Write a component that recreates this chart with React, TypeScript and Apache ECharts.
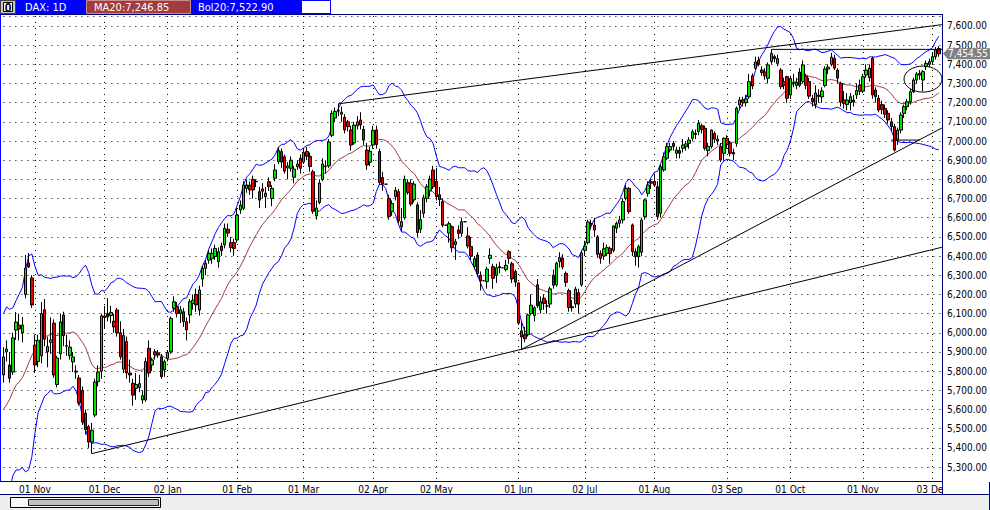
import React, { useEffect, useRef } from "react";
import * as echarts from "echarts";

// ---------- calendar ----------
const startDate = "2011-10-18";
const endDate = "2012-12-05";
const closedDays = ["2011-12-26", "2011-12-30", "2012-04-09", "2012-05-01"];
const extraDays = ["2012-05-05", "2012-05-12", "2012-05-19", "2012-05-26"];
const monthNames = ["Jan", "Feb", "Mar", "Apr", "May", "Jun", "Jul", "Aug", "Sep", "Oct", "Nov", "Dec"];

// ---------- header texts ----------
const symbolLabel = "DAX: 1D";
const maLabel = "MA20:7,246.85";
const bolLabel = "Bol20:7,522.90";
const lastPrice = 7454.55;

// closes before the first visible bar (for MA20 / Bollinger warm-up)
const warmupCloses = [5474, 5164, 5196, 5386, 5681, 5577, 5639, 5502, 5377, 5217, 5377, 5653, 5676, 5803, 5807, 5914, 5875, 5967, 5880];

// candles: [open, close, low, high]
const oct2011 = [
  [5780, 5874, 5740, 5925], [5900, 5915, 5850, 5960], [5832, 5763, 5740, 5900], [5795, 5973, 5780, 6000],
  [6014, 6056, 5963, 6108], [6040, 6020, 5960, 6100], [6000, 6040, 5950, 6082], [6200, 6338, 6180, 6406],
  [6364, 6343, 6338, 6416], [6286, 6145, 6130, 6300],
];
const nov2011 = [
  [5936, 5832, 5790, 5990], [5850, 5961, 5820, 5990], [5880, 6100, 5840, 6160], [6120, 5966, 5930, 6176],
  [5900, 5928, 5820, 5980], [5950, 5962, 5890, 6080], [6050, 5780, 5765, 6070], [5730, 5868, 5715, 5880],
  [5890, 6057, 5860, 6100], [6093, 5985, 5930, 6110], [5930, 5933, 5880, 5990], [5880, 5925, 5860, 5960],
  [5848, 5874, 5795, 5900], [5800, 5795, 5760, 5830], [5764, 5634, 5620, 5780], [5700, 5535, 5520, 5720],
  [5580, 5495, 5470, 5600], [5510, 5430, 5400, 5520], [5430, 5492, 5370, 5530], [5571, 5743, 5560, 5760],
  [5745, 5795, 5720, 5830], [5800, 6088, 5760, 6100],
];
const dec2011 = [
  [6088, 6080, 6020, 6140], [6100, 6082, 6060, 6180], [6090, 6106, 6050, 6140], [6060, 6030, 6000, 6100],
  [6119, 6000, 5980, 6130], [6000, 5875, 5860, 6060], [5810, 5985, 5790, 6020], [5954, 5790, 5760, 5980],
  [5790, 5780, 5740, 5860], [5736, 5675, 5620, 5760], [5710, 5730, 5650, 5790], [5715, 5735, 5690, 5780],
  [5650, 5672, 5630, 5700], [5650, 5850, 5640, 5870], [5919, 5790, 5770, 5960], [5832, 5858, 5800, 5870],
  [5901, 5885, 5860, 5915], [5895, 5885, 5870, 5910], [5875, 5771, 5760, 5890], [5806, 5849, 5770, 5860],
];
const jan2012 = [
  [5867, 5898, 5850, 5910], [5901, 6075, 5890, 6085], [6127, 6162, 6110, 6190], [6136, 6100, 6080, 6160],
  [6100, 6120, 6050, 6140], [6110, 6058, 6030, 6130], [6058, 6015, 5960, 6080], [6093, 6162, 6050, 6175],
  [6153, 6170, 6120, 6200], [6200, 6145, 6110, 6230], [6119, 6223, 6090, 6245], [6280, 6336, 6240, 6350],
  [6336, 6362, 6300, 6380], [6379, 6414, 6360, 6430], [6388, 6414, 6360, 6440], [6397, 6440, 6380, 6460],
  [6371, 6423, 6340, 6445], [6452, 6428, 6400, 6470], [6458, 6545, 6440, 6570], [6540, 6520, 6500, 6570],
  [6470, 6445, 6420, 6500], [6470, 6440, 6400, 6490],
];
const feb2012 = [
  [6484, 6614, 6470, 6650], [6640, 6666, 6620, 6690], [6649, 6771, 6640, 6790], [6753, 6771, 6730, 6800],
  [6770, 6745, 6720, 6790], [6800, 6745, 6700, 6820], [6790, 6788, 6760, 6800], [6736, 6692, 6650, 6760],
  [6750, 6738, 6700, 6780], [6710, 6728, 6650, 6760], [6788, 6762, 6740, 6810], [6700, 6753, 6660, 6770],
  [6806, 6849, 6790, 6880], [6893, 6950, 6880, 6970], [6945, 6890, 6860, 6960], [6918, 6843, 6830, 6930],
  [6860, 6870, 6800, 6890], [6858, 6900, 6840, 6920], [6811, 6854, 6780, 6870], [6866, 6880, 6850, 6900],
  [6910, 6858, 6830, 6930],
];
const mar2012 = [
  [6890, 6941, 6880, 6960], [6945, 6921, 6900, 6970], [6920, 6867, 6840, 6940], [6840, 6634, 6620, 6850],
  [6610, 6650, 6590, 6690], [6680, 6781, 6670, 6800], [6800, 6880, 6790, 6910], [6870, 6866, 6830, 6900],
  [6870, 6995, 6860, 7010], [7030, 7144, 7020, 7160], [7120, 7154, 7100, 7175], [7160, 7157, 7130, 7194],
  [7140, 7150, 7100, 7180], [7124, 7058, 7040, 7140], [7100, 7075, 7050, 7110], [7058, 6979, 6950, 7080],
  [6990, 7083, 6980, 7100], [7080, 7100, 7060, 7130], [7110, 7084, 7060, 7150], [7061, 7005, 6980, 7080],
  [6953, 6875, 6850, 6990], [6890, 6947, 6870, 6970],
];
const apr2012 = [
  [6979, 7056, 6960, 7080], [7058, 6982, 6960, 7080], [6945, 6784, 6770, 6960], [6810, 6775, 6740, 6840],
  [6775, 6775, 6775, 6775], [6701, 6606, 6590, 6720], [6632, 6674, 6610, 6690], [6710, 6743, 6690, 6760],
  [6736, 6583, 6570, 6750], [6553, 6580, 6530, 6650], [6600, 6801, 6590, 6820], [6783, 6732, 6720, 6800],
  [6779, 6671, 6660, 6800], [6693, 6775, 6680, 6790], [6667, 6523, 6500, 6680], [6540, 6590, 6520, 6640],
  [6623, 6704, 6600, 6720], [6701, 6762, 6680, 6775], [6740, 6801, 6710, 6820], [6849, 6761, 6750, 6870],
];
const may2012 = [
  [6790, 6710, 6690, 6860], [6720, 6694, 6660, 6760], [6684, 6561, 6550, 6700], [6561, 6561, 6561, 6561],
  [6520, 6569, 6470, 6580], [6553, 6444, 6420, 6560], [6460, 6475, 6380, 6490], [6536, 6518, 6490, 6560],
  [6519, 6579, 6500, 6600], [6579, 6579, 6579, 6579], [6505, 6452, 6440, 6550], [6450, 6401, 6380, 6500],
  [6345, 6386, 6330, 6400], [6405, 6308, 6290, 6420], [6300, 6271, 6220, 6320], [6271, 6271, 6271, 6271],
  [6267, 6332, 6230, 6345], [6388, 6404, 6360, 6440], [6345, 6284, 6230, 6360], [6300, 6339, 6260, 6360],
  [6345, 6339, 6310, 6370], [6339, 6339, 6339, 6339], [6330, 6352, 6320, 6380], [6423, 6388, 6360, 6430],
  [6360, 6281, 6260, 6370], [6319, 6264, 6240, 6330],
];
const jun2012 = [
  [6260, 6050, 6040, 6265], [6010, 5978, 5914, 6060], [5990, 5969, 5950, 6030], [5990, 6093, 5980, 6100],
  [6100, 6144, 6090, 6200], [6090, 6130, 6060, 6140], [6250, 6141, 6130, 6280], [6120, 6162, 6100, 6190],
  [6180, 6153, 6120, 6200], [6140, 6139, 6100, 6170], [6150, 6229, 6130, 6240], [6300, 6248, 6230, 6330],
  [6250, 6363, 6240, 6370], [6370, 6392, 6340, 6420], [6390, 6343, 6330, 6410], [6310, 6263, 6240, 6320],
  [6220, 6132, 6110, 6230], [6130, 6136, 6110, 6170], [6150, 6228, 6130, 6240], [6210, 6149, 6100, 6230],
  [6250, 6416, 6240, 6430],
];
const jul2012 = [
  [6430, 6452, 6400, 6480], [6470, 6578, 6460, 6590], [6570, 6566, 6540, 6590], [6562, 6536, 6500, 6600],
  [6500, 6410, 6390, 6510], [6414, 6388, 6360, 6430], [6400, 6438, 6380, 6470], [6414, 6444, 6400, 6460],
  [6440, 6413, 6360, 6450], [6430, 6557, 6420, 6560], [6545, 6571, 6520, 6580], [6571, 6588, 6550, 6610],
  [6588, 6684, 6570, 6700], [6701, 6753, 6690, 6770], [6753, 6632, 6620, 6760], [6562, 6423, 6400, 6570],
  [6423, 6397, 6350, 6440], [6397, 6449, 6340, 6460], [6420, 6588, 6400, 6600], [6606, 6693, 6590, 6700],
  [6727, 6771, 6710, 6790], [6788, 6780, 6750, 6800],
];
const aug2012 = [
  [6790, 6770, 6760, 6830], [6762, 6606, 6590, 6790], [6623, 6866, 6600, 6880], [6849, 6918, 6840, 6940],
  [6910, 6971, 6900, 6990], [6953, 6971, 6940, 6990], [6988, 6971, 6950, 7000], [6936, 6953, 6910, 6970],
  [6950, 6936, 6910, 6970], [6962, 6979, 6940, 7010], [6970, 6985, 6950, 7000], [6988, 7005, 6960, 7020],
  [7014, 7049, 7000, 7060], [7040, 7034, 7010, 7060], [7049, 7092, 7030, 7110], [7080, 7060, 7040, 7090],
  [7066, 6962, 6950, 7080], [6950, 6972, 6920, 6990], [6971, 7057, 6960, 7060], [7040, 7010, 6990, 7050],
  [7000, 7010, 6980, 7030], [6971, 6901, 6890, 6990], [6936, 7014, 6900, 7020],
];
const sep2012 = [
  [7014, 6981, 6960, 7030], [6988, 6936, 6920, 7000], [6940, 6932, 6900, 6960], [6988, 7171, 6970, 7180],
  [7188, 7214, 7170, 7230], [7215, 7200, 7180, 7230], [7200, 7220, 7180, 7240], [7230, 7310, 7220, 7350],
  [7340, 7287, 7270, 7353], [7380, 7412, 7370, 7440], [7420, 7403, 7390, 7440], [7370, 7357, 7340, 7390],
  [7360, 7340, 7320, 7380], [7327, 7397, 7300, 7410], [7414, 7457, 7400, 7478], [7440, 7430, 7410, 7450],
  [7405, 7430, 7390, 7450], [7370, 7283, 7270, 7380], [7310, 7290, 7270, 7330], [7336, 7223, 7200, 7340],
];
const oct2012 = [
  [7240, 7326, 7220, 7340], [7300, 7306, 7280, 7350], [7290, 7306, 7270, 7330], [7360, 7291, 7280, 7380],
  [7310, 7397, 7300, 7420], [7340, 7291, 7270, 7350], [7310, 7234, 7220, 7330], [7223, 7206, 7180, 7240],
  [7190, 7250, 7170, 7290], [7240, 7232, 7200, 7270], [7230, 7261, 7200, 7280], [7290, 7376, 7280, 7390],
  [7375, 7385, 7350, 7400], [7400, 7437, 7390, 7460], [7431, 7380, 7370, 7450], [7370, 7328, 7300, 7380],
  [7300, 7203, 7179, 7310], [7214, 7196, 7170, 7260], [7190, 7214, 7160, 7250], [7200, 7231, 7160, 7250],
  [7214, 7203, 7180, 7240], [7240, 7263, 7220, 7300], [7292, 7260, 7240, 7320],
];
const nov2012 = [
  [7260, 7335, 7250, 7350], [7344, 7370, 7330, 7400], [7330, 7380, 7310, 7400], [7431, 7240, 7220, 7440],
  [7266, 7231, 7200, 7280], [7223, 7162, 7150, 7240], [7190, 7165, 7140, 7210], [7170, 7140, 7120, 7190],
  [7144, 7110, 7090, 7160], [7100, 7075, 7050, 7120], [7075, 6953, 6945, 7090], [7005, 7057, 6980, 7070],
  [7057, 7136, 7040, 7150], [7144, 7179, 7120, 7190], [7179, 7205, 7160, 7220], [7205, 7257, 7190, 7270],
  [7257, 7318, 7250, 7330], [7318, 7350, 7300, 7360], [7353, 7344, 7320, 7370], [7318, 7362, 7260, 7370],
  [7388, 7405, 7370, 7420], [7400, 7414, 7385, 7430],
];
const dec2012 = [
  [7414, 7440, 7400, 7460], [7440, 7475, 7425, 7490], [7483, 7454.55, 7440, 7495],
];

// drawn trend lines: [[barIndex, price], [barIndex, price]]
const trendLines = [
  [[106, 7194], [297, 7607]],
  [[243, 7478], [297, 7478]],
  [[28, 5370], [297, 6446]],
  [[164, 5914], [297, 7068]],
  [[281, 7005], [290, 7005]],
];
// annotation ellipse centre [barIndex, price]
const ellipseCentre = [291, 7323];

const FONT = '"DejaVu Sans Condensed", "DejaVu Sans", sans-serif';

function buildDates(): string[] {
  const closed = new Set(closedDays);
  const extra = new Set(extraDays);
  const out: string[] = [];
  const [sy, sm, sd] = startDate.split("-").map(Number);
  const [ey, em, ed] = endDate.split("-").map(Number);
  let t = Date.UTC(sy, sm - 1, sd);
  const end = Date.UTC(ey, em - 1, ed);
  while (t <= end) {
    const d = new Date(t);
    const iso = d.toISOString().slice(0, 10);
    const wd = d.getUTCDay();
    if ((wd >= 1 && wd <= 5 && !closed.has(iso)) || extra.has(iso)) out.push(iso);
    t += 86400000;
  }
  return out;
}

export default function App() {
  const ref = useRef<HTMLDivElement>(null);

  useEffect(() => {
    document.body.style.margin = "0";
    const el = ref.current!;
    const chart = echarts.init(el, undefined, { renderer: "svg", width: 990, height: 510 });

    const candles = [
      ...oct2011, ...nov2011, ...dec2011, ...jan2012, ...feb2012, ...mar2012, ...apr2012,
      ...may2012, ...jun2012, ...jul2012, ...aug2012, ...sep2012, ...oct2012, ...nov2012, ...dec2012,
    ];
    const dates = buildDates();
    const cats = [...dates, ""];

    const allCloses = [...warmupCloses, ...candles.map((c) => c[1])];
    const ma: (number | null)[] = [];
    const up: (number | null)[] = [];
    const lo: (number | null)[] = [];
    for (let i = 0; i < candles.length; i++) {
      const k = i + warmupCloses.length;
      const win = allCloses.slice(k - 19, k + 1);
      const m = win.reduce((a, b) => a + b, 0) / win.length;
      const sd = Math.sqrt(win.reduce((a, b) => a + (b - m) * (b - m), 0) / win.length);
      ma.push(m);
      up.push(m + 2 * sd);
      lo.push(m - 2 * sd);
    }

    const isMonthStart = (i: number) =>
      i > 0 && i < dates.length && dates[i].slice(0, 7) !== dates[i - 1].slice(0, 7);

    const lineSeries = (data: any[], color: string, z: number) => ({
      type: "line",
      data,
      showSymbol: false,
      symbol: "none",
      lineStyle: { color, width: 1 },
      itemStyle: { color },
      z,
      silent: true,
    });

    chart.setOption({
      animation: false,
      backgroundColor: "#ffffff",
      grid: { left: 3.4, right: 47.5, top: 16, bottom: 29, containLabel: false },
      xAxis: {
        type: "category",
        data: cats,
        boundaryGap: false,
        axisLine: { show: false },
        axisTick: { show: false },
        axisLabel: {
          interval: (i: number) => isMonthStart(i),
          formatter: (v: string) => (v ? `${v.slice(8, 10)} ${monthNames[Number(v.slice(5, 7)) - 1]}` : ""),
          color: "#000",
          fontFamily: FONT,
          fontSize: 10,
          margin: 3,
        },
        splitLine: {
          show: true,
          interval: (i: number) => isMonthStart(i),
          lineStyle: { color: "#000", width: 1, type: [1, 5] },
        },
      },
      yAxis: {
        type: "value",
        position: "right",
        min: 5227,
        max: 7652,
        splitNumber: 24,
        minInterval: 100,
        maxInterval: 100,
        axisLine: { show: false },
        axisTick: { show: false },
        axisLabel: {
          formatter: (v: number) =>
            v.toLocaleString("en-US", { minimumFractionDigits: 2, maximumFractionDigits: 2 }),
          showMinLabel: false,
          showMaxLabel: false,
          color: "#000",
          fontFamily: FONT,
          fontSize: 10,
          margin: 5,
        },
        splitLine: { show: true, lineStyle: { color: "#000", width: 1, type: [1, 5] } },
      },
      series: [
        lineSeries(ma, "#a03c3c", 3),
        lineSeries(up, "#0000ff", 3),
        lineSeries(lo, "#0000ff", 3),
        {
          type: "candlestick",
          data: candles,
          barWidth: 3,
          z: 5,
          silent: true,
          itemStyle: {
            color: "#00e600",
            color0: "#e60000",
            borderColor: "#000",
            borderColor0: "#000",
            borderColorDoji: "#000",
            borderWidth: 1,
          },
        },
        ...trendLines.map((seg) => lineSeries(seg, "#000", 8)),
      ],
    });

    const [ex, ey] = chart.convertToPixel({ gridIndex: 0 }, ellipseCentre) as number[];
    const [, py] = chart.convertToPixel({ gridIndex: 0 }, [0, lastPrice]) as number[];
    const navy = "#000080";
    const Z = 100;
    const txt = (x: number, y: number, text: string, size: number, fill: string, extra: any = {}) => ({
      type: "text",
      z: Z + 2,
      x,
      y,
      style: { text, fill, font: `${size}px ${FONT}`, textVerticalAlign: "middle", ...extra },
    });

    chart.setOption({
      graphic: [
        { type: "ellipse", z: Z, shape: { cx: ex, cy: ey, rx: 19, ry: 13 }, style: { fill: "none", stroke: "#000", lineWidth: 1 } },
        // header
        { type: "rect", z: Z, shape: { x: 0, y: 0, width: 331, height: 14 }, style: { fill: "#0000ff" } },
        { type: "rect", z: Z + 1, shape: { x: 0.5, y: 0.5, width: 15, height: 13 }, style: { fill: "#c8c8c8", stroke: "#404040", lineWidth: 1 } },
        { type: "rect", z: Z + 1, shape: { x: 3.5, y: 2.5, width: 9, height: 9 }, style: { fill: "#ffffff", stroke: "#000", lineWidth: 1 } },
        txt(8, 7.5, "0", 9, "#000", { textAlign: "center", fontWeight: "bold" }),
        txt(25, 7.5, symbolLabel, 11, "#ffffff"),
        { type: "rect", z: Z + 1, shape: { x: 86.5, y: 0.5, width: 104, height: 13 }, style: { fill: "#a03c3c", stroke: "#d08a8a", lineWidth: 1 } },
        txt(94, 7.5, maLabel, 11, "#ffffff"),
        txt(198, 7.5, bolLabel, 11, "#ffffff"),
        { type: "rect", z: Z + 1, shape: { x: 302, y: 1, width: 28, height: 12 }, style: { fill: "#ffffff" } },
        // frame
        { type: "line", z: Z, shape: { x1: 0, y1: 14.5, x2: 943, y2: 14.5 }, style: { stroke: navy, lineWidth: 1 } },
        { type: "line", z: Z, shape: { x1: 0.5, y1: 14, x2: 0.5, y2: 482 }, style: { stroke: "#0000ff", lineWidth: 1 } },
        { type: "line", z: Z, shape: { x1: 942.5, y1: 14, x2: 942.5, y2: 495 }, style: { stroke: navy, lineWidth: 1 } },
        { type: "line", z: Z, shape: { x1: 0, y1: 481.5, x2: 943, y2: 481.5 }, style: { stroke: navy, lineWidth: 1 } },
        { type: "rect", z: Z, shape: { x: 943, y: 482, width: 47, height: 13 }, style: { fill: "#ffffff" } },
        // scrollbar strip
        { type: "rect", z: Z, shape: { x: 0, y: 495, width: 990, height: 15 }, style: { fill: "#efefef" } },
        { type: "line", z: Z + 1, shape: { x1: 0, y1: 494.5, x2: 990, y2: 494.5 }, style: { stroke: navy, lineWidth: 1 } },
        { type: "line", z: Z + 1, shape: { x1: 989.5, y1: 482, x2: 989.5, y2: 510 }, style: { stroke: navy, lineWidth: 1 } },
        { type: "rect", z: Z + 1, shape: { x: 10.5, y: 497.5, width: 150, height: 10 }, style: { fill: "#f8f8f8", stroke: "#000", lineWidth: 1 } },
        { type: "rect", z: Z + 2, shape: { x: 28.5, y: 499.5, width: 130, height: 6 }, style: { fill: "#c0c0c0", stroke: "#202020", lineWidth: 1 } },
        // last price marker
        {
          type: "polygon",
          z: Z + 1,
          shape: { points: [[943, py], [948, py - 5.5], [990, py - 5.5], [990, py + 5.5], [948, py + 5.5]] },
          style: { fill: "#808080" },
        },
        txt(948, py, lastPrice.toLocaleString("en-US", { minimumFractionDigits: 2 }), 10, "#ffffff"),
      ],
    });

    return () => chart.dispose();
  }, []);

  return (
    <div
      ref={ref}
      style={{ position: "fixed", left: 0, top: 0, width: 990, height: 510, background: "#fff" }}
    />
  );
}
